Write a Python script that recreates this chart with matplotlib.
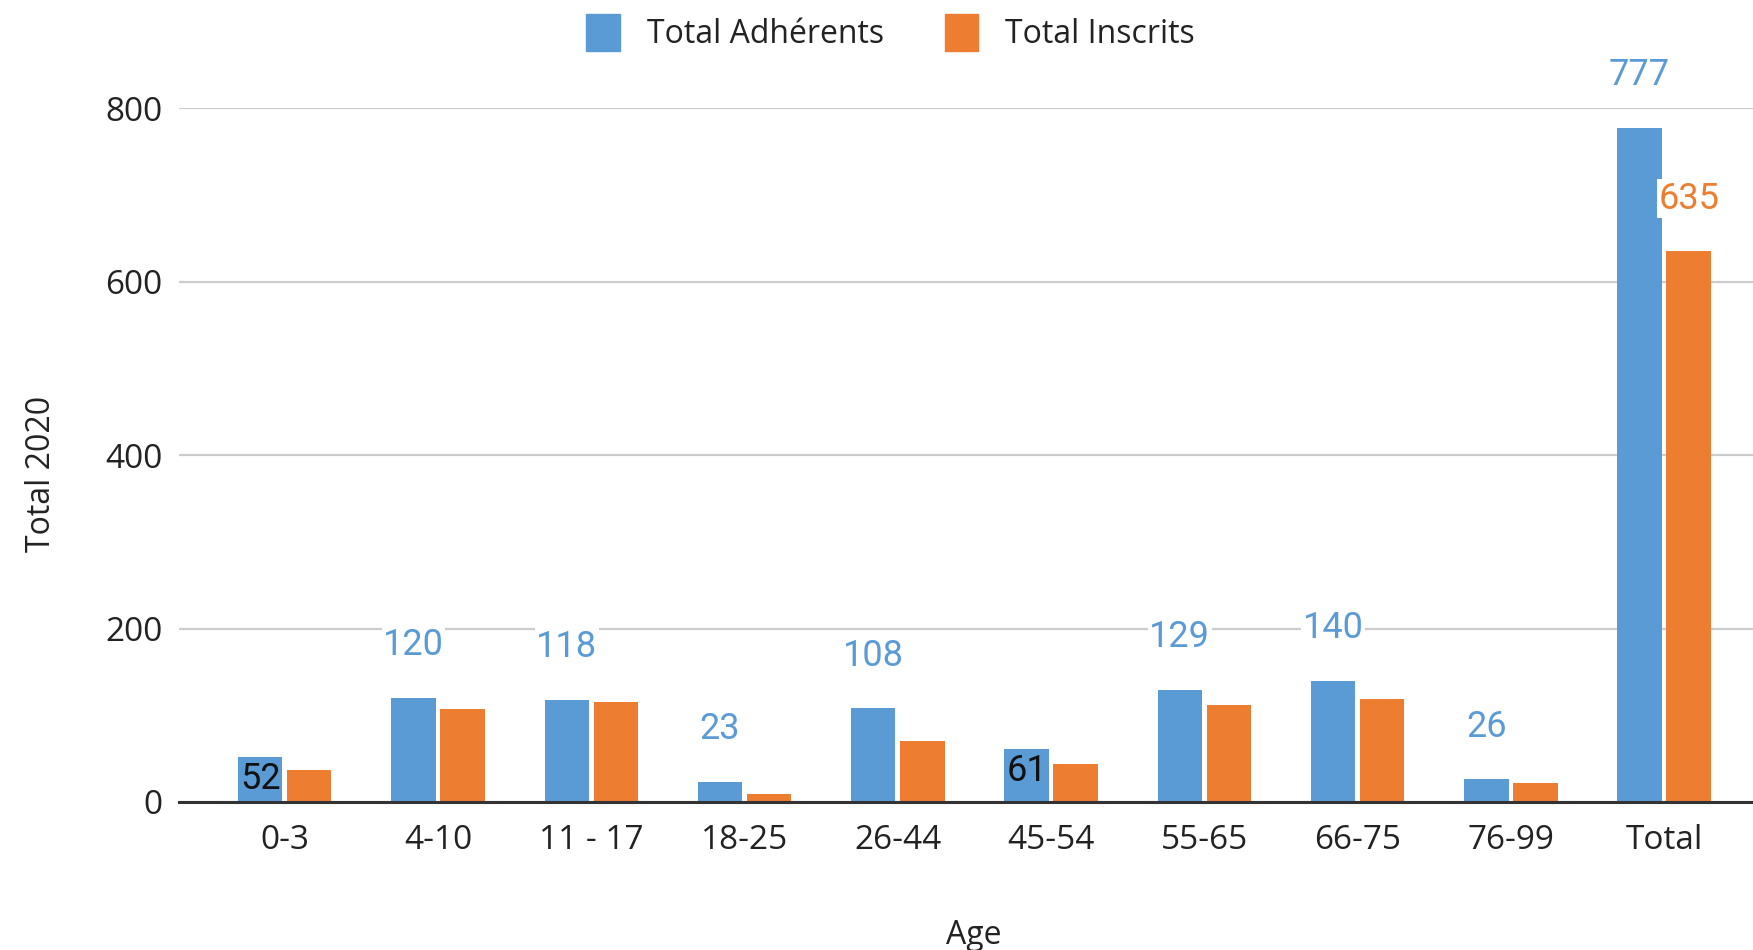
import matplotlib.pyplot as plt
from matplotlib.patches import Patch
import numpy as np

# data
ages = ['0-3', '4-10', '11 - 17', '18-25', '26-44', '45-54', '55-65', '66-75', '76-99', 'Total']
adherents = [52, 120, 118, 23, 108, 61, 129, 140, 26, 777]
inscrits = [37, 107, 115, 9, 70, 44, 112, 119, 22, 635]
yticks = [0, 200, 400, 600, 800]

blue = '#5b9bd5'
orange = '#ed7d31'

plt.rcParams['font.family'] = ['Open Sans', 'DejaVu Sans']

fig = plt.figure(figsize=(17.53, 9.5), dpi=100)
ax = fig.add_axes([0.1021, 0.1558, 0.8979, 0.7302])

x = np.arange(len(ages))
w = 0.29
off = 0.16
ax.bar(x - off, adherents, width=w, color=blue, zorder=3)
ax.bar(x + off, inscrits, width=w, color=orange, zorder=3)

ax.set_xlim(-0.69, 9.58)
ax.set_ylim(0, 800)
ax.set_yticks(yticks)
ax.set_xticks(x)
ax.set_xticklabels(ages)
ax.tick_params(axis='both', length=0, labelsize=24, colors='#222222')
ax.tick_params(axis='x', pad=16)
ax.tick_params(axis='y', pad=12)

ax.grid(axis='y', color='#cccccc', linewidth=1.6, zorder=0)
for s in ['top', 'right', 'left']:
    ax.spines[s].set_visible(False)
ax.spines['bottom'].set_color('#333333')
ax.spines['bottom'].set_linewidth(2.2)
ax.spines['bottom'].set_zorder(4)

# value labels
lab_font = ['Roboto', 'DejaVu Sans']
for i, v in enumerate(adherents):
    if v in (52, 61):
        ax.annotate(str(v), (x[i] - off, v), xytext=(0, -16), textcoords='offset points',
                    ha='center', va='center', fontsize=26, color='#111111',
                    family=lab_font, zorder=5)
    else:
        ax.annotate(str(v), (x[i] - off, v), xytext=(0, 38), textcoords='offset points',
                    ha='center', va='center', fontsize=26, color=blue,
                    family=lab_font, zorder=5, annotation_clip=False,
                    bbox=dict(facecolor='white', edgecolor='none', pad=1))
ax.annotate(str(inscrits[-1]), (x[-1] + off, inscrits[-1]), xytext=(0, 38),
            textcoords='offset points', ha='center', va='center', fontsize=26,
            color=orange, family=lab_font, zorder=5,
            bbox=dict(facecolor='white', edgecolor='none', pad=1))

ax.set_xlabel('Age', fontsize=23, color='#222222')
ax.xaxis.set_label_coords(0.505, -0.168)
ax.set_ylabel('Total 2020', fontsize=23, color='#222222')
ax.yaxis.set_label_coords(-0.077, 0.473)

handles = [Patch(color=blue, label='Total Adhérents'), Patch(color=orange, label='Total Inscrits')]
fig.legend(handles=handles, loc='center', bbox_to_anchor=(0.508, 0.966), ncol=2,
           frameon=False, fontsize=23, handlelength=1.05, handleheight=1.4,
           columnspacing=1.9, handletextpad=0.85, labelcolor='#222222')

fig.savefig('out.png', dpi=100)
